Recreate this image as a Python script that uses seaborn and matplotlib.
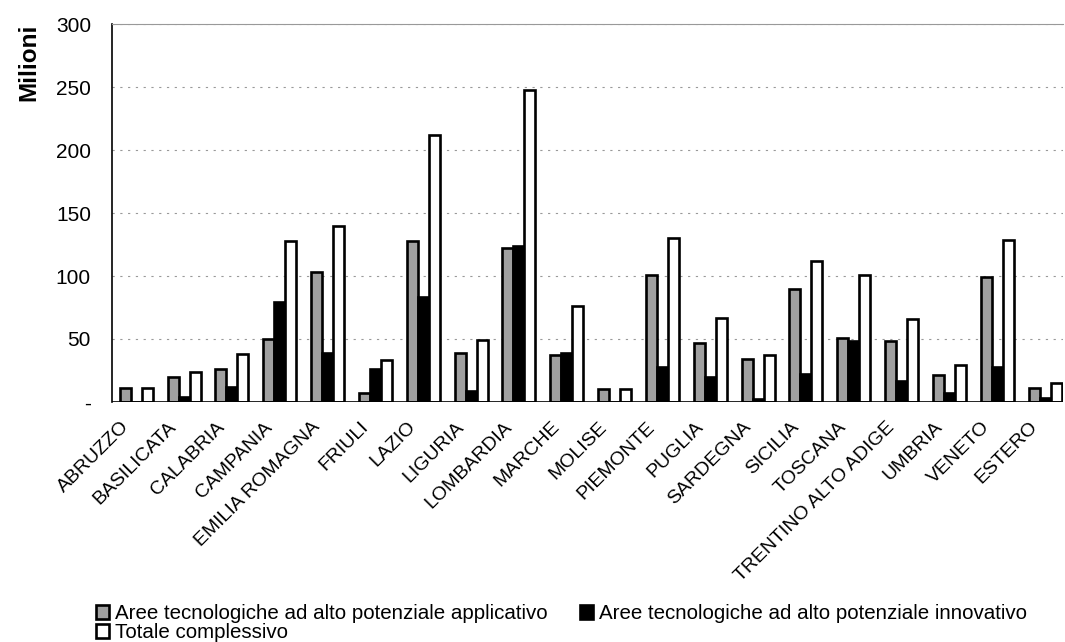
import pandas as pd
import numpy as np
import matplotlib
matplotlib.use('Agg')
import matplotlib.pyplot as plt
import matplotlib.transforms as mtransforms
import seaborn as sns

regioni = ['ABRUZZO', 'BASILICATA', 'CALABRIA', 'CAMPANIA', 'EMILIA ROMAGNA', 'FRIULI',
           'LAZIO', 'LIGURIA', 'LOMBARDIA', 'MARCHE', 'MOLISE', 'PIEMONTE', 'PUGLIA',
           'SARDEGNA', 'SICILIA', 'TOSCANA', 'TRENTINO ALTO ADIGE', 'UMBRIA', 'VENETO', 'ESTERO']
applicativo = [11, 20, 26, 50, 103, 7, 128, 39, 122, 37, 10, 101, 47, 34, 90, 51, 48, 21, 99, 11]
innovativo = [0, 4, 12, 79, 39, 26, 83, 9, 124, 39, 0, 28, 20, 2, 22, 48, 17, 7, 28, 3]
totale = [11, 24, 38, 128, 140, 33, 212, 49, 248, 76, 10, 130, 67, 37, 112, 101, 66, 29, 129, 15]

serie = ['Aree tecnologiche ad alto potenziale applicativo',
         'Aree tecnologiche ad alto potenziale innovativo',
         'Totale complessivo']
yticks = [0, 50, 100, 150, 200, 250, 300]
ylabels = ['-', '50', '100', '150', '200', '250', '300']

df = pd.DataFrame({'regione': regioni * 3,
                   'serie': np.repeat(serie, len(regioni)),
                   'valore': applicativo + innovativo + totale})

sns.set_style('white')
plt.rcParams['font.family'] = ['Liberation Sans', 'DejaVu Sans']
plt.rcParams['text.color'] = 'black'
plt.rcParams['xtick.color'] = 'black'
plt.rcParams['ytick.color'] = 'black'
plt.rcParams['axes.labelcolor'] = 'black'

fig, ax = plt.subplots(figsize=(10.65, 6.42), dpi=100)
fig.subplots_adjust(left=0.105, right=0.998, top=0.962, bottom=0.374)

sns.barplot(data=df, x='regione', y='valore', hue='serie', order=regioni, hue_order=serie,
            palette=['#a0a0a0', 'black', 'white'], edgecolor='black', linewidth=1.9,
            width=0.69, gap=0, ax=ax, legend=True)

ax.set_ylim(0, 300)
ax.set_xlim(-0.51, len(regioni) - 0.63)
ax.set_yticks(yticks)
ax.set_yticklabels(ylabels, fontsize=15)
ax.yaxis.grid(True, linestyle=(0, (2, 5)), color='#999999', linewidth=0.8)
ax.set_axisbelow(True)
ax.set_ylabel('Milioni', fontsize=17.5, fontweight='bold')
ax.yaxis.set_label_coords(-0.075, 0.9)
ax.set_xlabel('')
ax.tick_params(axis='x', labelsize=14, pad=4, length=0)
ax.tick_params(axis='y', pad=15, length=0)
# etichette spostate un po' a sinistra e in basso come nell'originale
shift = mtransforms.ScaledTranslation(-0.16, -0.11, fig.dpi_scale_trans)
for lab in ax.get_xticklabels():
    lab.set_rotation(45)
    lab.set_ha('right')
    lab.set_rotation_mode('anchor')
    lab.set_transform(lab.get_transform() + shift)

for s in ['right', 'bottom']:
    ax.spines[s].set_visible(False)
ax.spines['left'].set_color('black')
ax.spines['left'].set_linewidth(1.2)
ax.spines['top'].set_color('#999999')
ax.spines['top'].set_linewidth(0.8)
ax.axhline(0, color='black', linewidth=1.2)

handles, labels = ax.get_legend_handles_labels()
ax.legend_.remove()
order = [0, 2, 1]
fig.legend([handles[i] for i in order], [labels[i] for i in order], ncol=2,
           loc='upper left', bbox_to_anchor=(0.079, 0.078), frameon=False,
           fontsize=14.8, handlelength=0.6, handleheight=0.6, handletextpad=0.3,
           columnspacing=1.6, labelspacing=0.0, borderpad=0.1)

fig.savefig('out.png', dpi=100)
